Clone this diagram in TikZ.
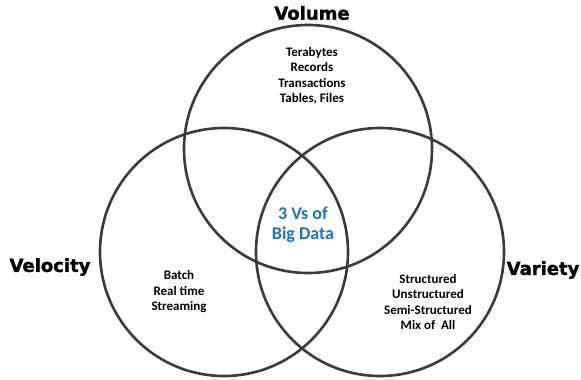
\documentclass[tikz,border=0pt]{standalone}
\usepackage{fontspec}
\newfontfamily\calib{Carlito}
\newfontfamily\heavy{DejaVu Sans}[BoldFeatures={FakeBold=1.6}]
\definecolor{ringgray}{RGB}{58,58,58}
\definecolor{vblue}{RGB}{31,113,193}
\begin{document}
\begin{tikzpicture}[x=1pt,y=-1pt,
  ring/.style={draw=ringgray,line width=2.6pt,circle,minimum size=248pt,inner sep=0pt},
  vtitle/.style={font={\heavy\bfseries\fontsize{18}{20}\selectfont},inner sep=0pt,text=black},
  items/.style={font={\calib\bfseries\fontsize{13}{15.5}\selectfont},align=center,inner sep=0pt,text=black},
  core/.style={font={\calib\bfseries\fontsize{18}{20}\selectfont},align=center,inner sep=0pt,text=vblue}]
  \useasboundingbox (0,0) rectangle (581,380);
  \fill[white] (0,0) rectangle (581,380);

  % the three overlapping sets
  \node[ring] (vol) at (308,149) {};
  \node[ring] (vel) at (224,252) {};
  \node[ring] (var) at (380,252) {};

  % set names
  \node[vtitle] (volname) at (312,13) {Volume};
  \node[vtitle] (velname) at (50,267) {Velocity};
  \node[vtitle] (varname) at (543,270) {Variety};

  % contents of each set
  \node[items] (volitems) at (312,76) {Terabytes\\Records\\Transactions\\Tables, Files};
  \node[items] (velitems) at (179,292) {Batch\\Real time\\Streaming};
  \node[items] (varitems) at (428,302) {Structured\\Unstructured\\Semi-Structured\\Mix of~ All};

  % common intersection
  \node[core] (centre) at (303,225) {3 Vs of\\Big Data};
\end{tikzpicture}
\end{document}
